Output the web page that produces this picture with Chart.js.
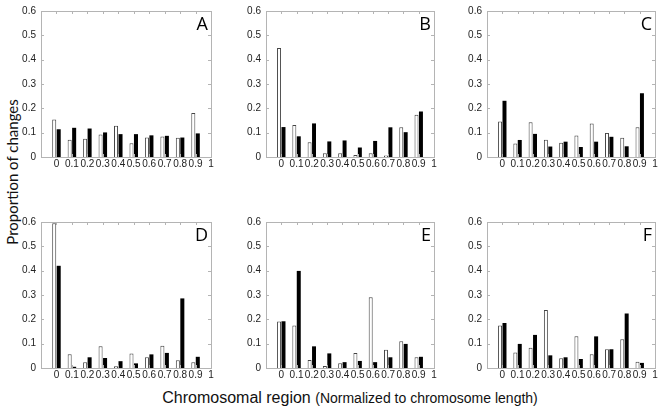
<!DOCTYPE html>
<html>
<head>
<meta charset="utf-8">
<script src="https://cdn.jsdelivr.net/npm/chart.js@4"></script>
<style>
  body { margin: 0; background: #fff; width: 661px; height: 411px; position: relative; overflow: hidden; font-family: "Liberation Sans", Arial, sans-serif; }
  .panel { position: absolute; }
  #ytitle { position: absolute; left: 12px; top: 172px; transform: translate(-50%, -50%) rotate(-90deg); white-space: nowrap; font-family: Lato, sans-serif; font-size: 15px; color: #111; }
  #xtitle { position: absolute; left: 350px; top: 398px; transform: translate(-50%, -50%); white-space: nowrap; color: #111; }
</style>
</head>
<body>
<div id="ytitle">Proportion of changes</div>
<div id="xtitle"><span style="font-size:16px">Chromosomal region</span> <span style="font-size:14px">(Normalized to chromosome length)</span></div>
<script>
// Data: white = open bars, black = filled bars
const regions = [0, 0.1, 0.2, 0.3, 0.4, 0.5, 0.6, 0.7, 0.8, 0.9];
const panelLabels = ['A', 'B', 'C', 'D', 'E', 'F'];

const whiteA = [0.154, 0.071, 0.075, 0.092, 0.128, 0.057, 0.080, 0.084, 0.079, 0.181];
const blackA = [0.114, 0.120, 0.117, 0.101, 0.094, 0.094, 0.089, 0.087, 0.080, 0.097];

const whiteB = [0.448, 0.131, 0.061, 0.015, 0.015, 0.008, 0.015, 0.006, 0.122, 0.174];
const blackB = [0.123, 0.085, 0.138, 0.064, 0.068, 0.039, 0.066, 0.122, 0.102, 0.187];

const whiteC = [0.146, 0.055, 0.143, 0.071, 0.059, 0.088, 0.138, 0.099, 0.079, 0.122];
const blackC = [0.231, 0.070, 0.095, 0.043, 0.063, 0.041, 0.063, 0.083, 0.044, 0.262];

const whiteD = [0.595, 0.056, 0.024, 0.089, 0.007, 0.060, 0.044, 0.091, 0.032, 0.024];
const blackD = [0.420, 0.005, 0.044, 0.041, 0.028, 0.019, 0.056, 0.062, 0.286, 0.046];

const whiteE = [0.191, 0.175, 0.033, 0.008, 0.020, 0.062, 0.291, 0.075, 0.110, 0.044];
const blackE = [0.192, 0.399, 0.089, 0.060, 0.024, 0.029, 0.024, 0.044, 0.099, 0.046];

const whiteF = [0.175, 0.064, 0.083, 0.238, 0.040, 0.130, 0.056, 0.077, 0.118, 0.026];
const blackF = [0.185, 0.099, 0.136, 0.052, 0.044, 0.037, 0.130, 0.077, 0.224, 0.021];

const whiteSeries = [whiteA, whiteB, whiteC, whiteD, whiteE, whiteF];
const blackSeries = [blackA, blackB, blackC, blackD, blackE, blackF];

// plot-area boxes of the 2x3 grid
const colLeft = [41, 266, 487];
const colWidth = [170, 168, 168];
const rowTop = [5, 216];
const plotHeight = 152;
const yAxisW = 36, xAxisH = 20, padTop = 5, padRight = 8;

function fmt(v) {
    const r = Math.round(v * 10) / 10;
    return String(r);
}

// frame with small inward ticks, x tick labels, and the panel letter
const framePlugin = {
    id: 'frame',
    afterDraw(chart, args, opts) {
        const ctx = chart.ctx;
        const a = chart.chartArea;
        const xs = chart.scales.x, ys = chart.scales.y;
        ctx.save();
        ctx.strokeStyle = '#b4b4b4';
        ctx.lineWidth = 1;
        ctx.strokeRect(Math.round(a.left) + 0.5, Math.round(a.top) + 0.5,
            Math.round(a.right - a.left), Math.round(a.bottom - a.top));
        ctx.beginPath();
        xs.ticks.forEach(t => {
            const px = Math.round(xs.getPixelForValue(t.value)) + 0.5;
            ctx.moveTo(px, a.top); ctx.lineTo(px, a.top + 3);
            ctx.moveTo(px, a.bottom); ctx.lineTo(px, a.bottom - 3);
        });
        ys.ticks.forEach(t => {
            const py = Math.round(ys.getPixelForValue(t.value)) + 0.5;
            ctx.moveTo(a.left, py); ctx.lineTo(a.left + 3, py);
            ctx.moveTo(a.right, py); ctx.lineTo(a.right - 3, py);
        });
        ctx.stroke();

        // x tick labels
        ctx.fillStyle = '#222';
        ctx.font = '10px "Liberation Sans", Arial, sans-serif';
        ctx.textAlign = 'center';
        ctx.textBaseline = 'middle';
        xs.ticks.forEach(t => {
            if (t.value < -0.01) return;
            ctx.fillText(fmt(t.value), xs.getPixelForValue(t.value), a.bottom + 7.5);
        });

        ctx.fillStyle = '#000';
        ctx.font = '18px "Open Sans", sans-serif';
        ctx.textAlign = 'right';
        ctx.fillText(opts.label, a.right - 3, a.top + 14);
        ctx.restore();
    }
};

function makePanel(i) {
    const col = i % 3, row = Math.floor(i / 3);
    const div = document.createElement('div');
    div.className = 'panel';
    div.style.left = (colLeft[col] - yAxisW) + 'px';
    div.style.top = (rowTop[row] - padTop) + 'px';
    div.style.width = (colWidth[col] + yAxisW + padRight) + 'px';
    div.style.height = (plotHeight + padTop + xAxisH) + 'px';
    const canvas = document.createElement('canvas');
    div.appendChild(canvas);
    document.body.appendChild(div);

    new Chart(canvas.getContext('2d'), {
        type: 'bar',
        data: {
            datasets: [{
                data: regions.map((r, k) => ({ x: r, y: whiteSeries[i][k] })),
                backgroundColor: '#ffffff',
                borderColor: '#444444',
                borderWidth: 1
            }, {
                data: regions.map((r, k) => ({ x: r, y: blackSeries[i][k] })),
                backgroundColor: '#000000',
                borderWidth: 0
            }]
        },
        options: {
            responsive: true,
            maintainAspectRatio: false,
            animation: false,
            layout: { padding: { top: padTop, right: padRight, left: 0, bottom: 0 } },
            datasets: { bar: { categoryPercentage: 0.58, barPercentage: 0.9 } },
            plugins: {
                legend: { display: false },
                tooltip: { enabled: false },
                frame: { label: panelLabels[i] }
            },
            scales: {
                x: {
                    type: 'linear',
                    min: -0.1,
                    max: 1,
                    offset: false,
                    grid: { display: false, drawTicks: false },
                    border: { display: false },
                    ticks: { stepSize: 0.1, display: false },
                    afterFit: s => { s.height = xAxisH; }
                },
                y: {
                    min: 0,
                    max: 0.6,
                    grid: { display: false, drawTicks: false },
                    border: { display: false },
                    ticks: {
                        stepSize: 0.1,
                        padding: 5,
                        color: '#222',
                        font: { size: 10, family: 'Liberation Sans' },
                        callback: v => fmt(v)
                    },
                    afterFit: s => { s.width = yAxisW; }
                }
            }
        },
        plugins: [framePlugin]
    });
}

for (let i = 0; i < 6; i++) makePanel(i);
</script>
</body>
</html>
